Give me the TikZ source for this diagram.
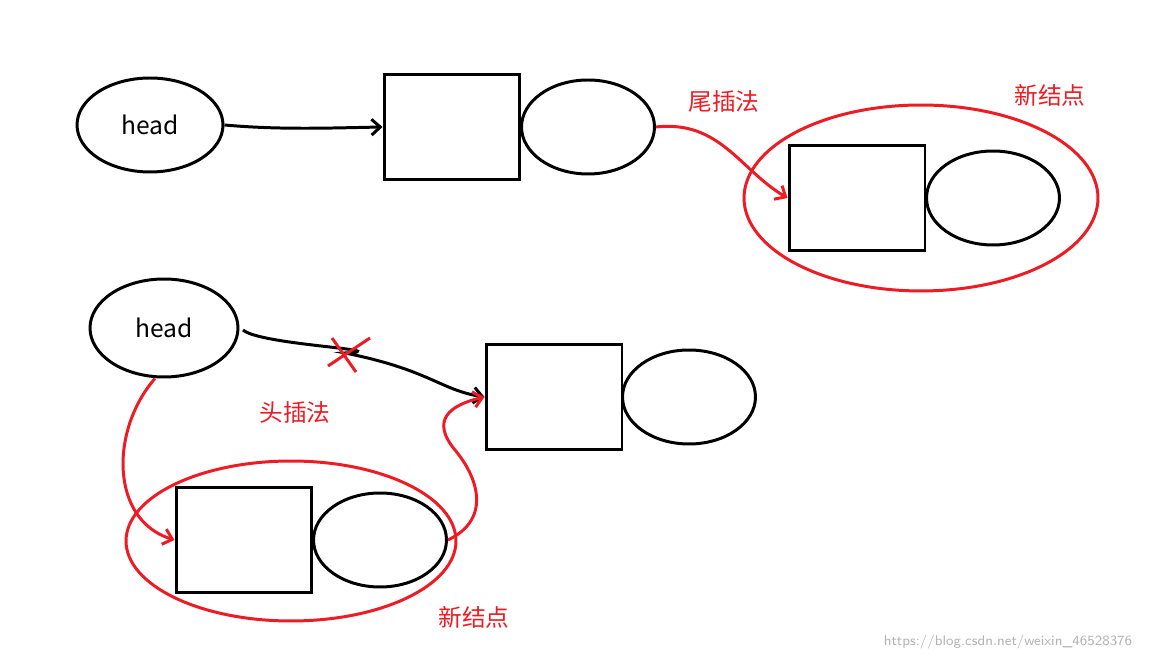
\documentclass[tikz,border=0pt]{standalone}
\usepackage{fontspec}
\setmainfont{Noto Sans CJK SC}
\usetikzlibrary{shapes.geometric,arrows.meta}
\definecolor{Ins}{HTML}{ED1C24}

\begin{document}
\begin{tikzpicture}[x={(0.02cm,0)}, y={(0,-0.02cm)},
  cell/.style={draw, line width=1.7pt, minimum width=2.72cm, minimum height=2.1cm, inner sep=0},
  link/.style={draw, ellipse, line width=1.7pt, minimum width=2.66cm, minimum height=1.88cm, inner sep=0},
  ptr/.style={line width=1.7pt, -{Straight Barb[length=5pt,width=9pt]}},
  redptr/.style={line width=1.7pt, color=Ins, -{Straight Barb[length=5pt,width=9pt]}},
  lbl/.style={color=Ins, font=\fontsize{13.5}{15}\selectfont}]

 \useasboundingbox (0,0) rectangle (1153,661);

 %%%%%%%%%% Tail insertion %%%%%%%%%%
 \node (head1) [link, minimum width=2.92cm] at (150,125) {\fontsize{14}{16}\selectfont head};
 \node (box1) [cell] at (452,127) {};
 \node (next1) [link] at (588,127) {};
 \node (new1) [draw=Ins, ellipse, line width=1.7pt, minimum width=7.08cm, minimum height=3.72cm] at (921,198) {};
 \node (box2) [cell] at (857,198) {};
 \node (next2) [link] at (993,198) {};
 \node (tail) [lbl] at (724,102) {尾插法};
 \node (newlbl1) [lbl] at (1050,95) {新结点};

 \draw [ptr] (head1.east) .. controls (280,130) and (330,128) .. (box1.west);
 \draw [redptr] (next1.east) .. controls (720,120) and (740,170) .. (box2.west);

 %%%%%%%%%% Head insertion %%%%%%%%%%
 \node (head2) [link, minimum width=2.96cm, minimum height=1.96cm] at (164,328) {\fontsize{14}{16}\selectfont head};
 \node (box3) [cell] at (554,397) {};
 \node (next3) [link] at (689,397) {};
 \node (new2) [draw=Ins, ellipse, line width=1.7pt, minimum width=6.6cm, minimum height=3.2cm] at (291,541) {};
 \node (box4) [cell] at (244,540) {};
 \node (next4) [link] at (380,540) {};
 \node (headlbl) [lbl] at (295,413) {头插法};
 \node (newlbl2) [lbl] at (474,617) {新结点};

 \coordinate (cut) at (345,353);
 \draw [ptr] (243,330) .. controls (260,345) and (400,350) .. (cut) .. controls (430,370) and (440,390) .. (box3.west);
 \draw [line width=1.7pt, color=Ins] (332,338) -- (356,372) (328,366) -- (370,338);

 \draw [redptr] (head2.south) ++(-9,0) .. controls (110,430) and (110,520) .. (box4.west);
 \draw [redptr] (next4.east) .. controls (490,520) and (480,480) .. (455,450) .. controls (430,420) and (450,405) .. (box3.west);

 \node (mark) [color=gray!60, font=\fontsize{8}{9}\selectfont\sffamily] at (1008,642) {https://blog.csdn.net/weixin\_46528376};
\end{tikzpicture}
\end{document}
